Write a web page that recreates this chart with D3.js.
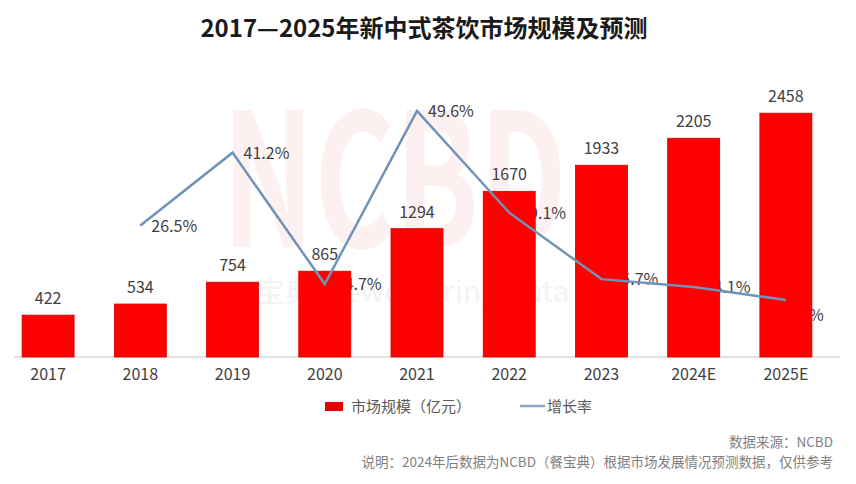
<!DOCTYPE html>
<html>
<head>
<meta charset="utf-8">
<script src="https://cdn.jsdelivr.net/npm/d3@7"></script>
<style>
  body { margin: 0; background: #fff; }
  svg text { font-family: "Noto Sans CJK SC", "Noto Sans", sans-serif; }
</style>
</head>
<body>
<div id="chart"></div>
<script>
// data
var years = ["2017", "2018", "2019", "2020", "2021", "2022", "2023", "2024E", "2025E"]
var marketSize = [422, 534, 754, 865, 1294, 1670, 1933, 2205, 2458]
var growthYears = ["2018", "2019", "2020", "2021", "2022", "2023", "2024E", "2025E"]
var growthRate = [26.5, 41.2, 14.7, 49.6, 29.1, 15.7, 14.1, 11.5]

var svgW = 856, svgH = 484
var svg = d3.select('#chart').append('svg')
    .attr('width', svgW)
    .attr('height', svgH)

var baseY = 357

// title
svg.append('text')
    .attr('x', 424).attr('y', 37)
    .attr('text-anchor', 'middle')
    .attr('font-size', 24).attr('font-weight', 'bold')
    .attr('fill', '#1a1a1a')
    .text('2017—2025年新中式茶饮市场规模及预测')

// faint watermark
svg.append('text')
    .attr('x', 222).attr('y', 247)
    .attr('font-size', 185).attr('font-weight', 'bold')
    .attr('font-family', 'Liberation Sans')
    .attr('textLength', 345).attr('lengthAdjust', 'spacingAndGlyphs')
    .attr('fill', '#fdf0f1')
    .text('NCBD')
svg.append('text')
    .attr('x', 255).attr('y', 302)
    .attr('font-size', 30)
    .attr('fill', '#f3f3f3')
    .text('宝典 Newcatering Data')

var xscale = d3.scaleBand()
    .domain(years)
    .range([2, 832])
    .paddingInner(0.436)
    .paddingOuter(0.218)

var yscale = d3.scaleLinear()
    .domain([0, 2500])
    .range([baseY, 109])

var gscale = d3.scaleLinear()
    .domain([0, 50])
    .range([baseY, 109])

var cx = function(y) { return xscale(y) + xscale.bandwidth() / 2 }

// growth labels sit behind the bars
svg.append('g').selectAll('text')
    .data(growthRate)
    .enter().append('text')
    .attr('x', function(d, i) { return cx(growthYears[i]) + (i == 7 ? -8 : 11) })
    .attr('y', function(d, i) { return gscale(d) + (i == 7 ? 21 : 6) })
    .attr('font-size', 16)
    .attr('fill', '#404040')
    .text(function(d) { return d.toFixed(1) + '%' })

// x axis
var xaxis = d3.axisBottom(xscale).tickSize(0).tickPadding(12)
var gx = svg.append('g')
    .attr('transform', `translate(0, ${baseY})`)
    .call(xaxis)
gx.select('.domain').remove()
gx.selectAll('text')
    .attr('font-size', 16)
    .attr('fill', '#404040')
    .style('font-family', '"Noto Sans CJK SC", sans-serif')
svg.append('line')
    .attr('x1', 14).attr('x2', 840)
    .attr('y1', baseY).attr('y2', baseY)
    .attr('stroke', '#d9d9d9').attr('stroke-width', 1.5)

// bars
svg.append('g').selectAll('rect')
    .data(marketSize)
    .enter().append('rect')
    .attr('x', function(d, i) { return xscale(years[i]) })
    .attr('y', function(d) { return yscale(d) })
    .attr('width', xscale.bandwidth())
    .attr('height', function(d) { return baseY - yscale(d) })
    .attr('fill', '#fe0000')
    .attr('stroke', '#d40000').attr('stroke-width', 0.8)

// bar value labels
svg.append('g').selectAll('text')
    .data(marketSize)
    .enter().append('text')
    .attr('x', function(d, i) { return cx(years[i]) })
    .attr('y', function(d) { return yscale(d) - 11 })
    .attr('text-anchor', 'middle')
    .attr('font-size', 16)
    .attr('fill', '#404040')
    .text(function(d) { return d })

// growth line
var line = d3.line()
    .x(function(d, i) { return cx(growthYears[i]) })
    .y(function(d) { return gscale(d) })
svg.append('path')
    .datum(growthRate)
    .attr('d', line)
    .attr('fill', 'none')
    .attr('stroke', '#6f93b9')
    .attr('stroke-width', 2.5)
    .attr('stroke-linejoin', 'miter')

// legend
var leg = svg.append('g')
leg.append('rect')
    .attr('x', 325).attr('y', 402).attr('width', 18).attr('height', 9)
    .attr('fill', '#e60000')
leg.append('text')
    .attr('x', 351).attr('y', 412)
    .attr('font-size', 15).attr('fill', '#595959')
    .text('市场规模（亿元）')
leg.append('line')
    .attr('x1', 520).attr('x2', 545).attr('y1', 406).attr('y2', 406)
    .attr('stroke', '#8aa5c4').attr('stroke-width', 2.5)
leg.append('text')
    .attr('x', 547).attr('y', 412)
    .attr('font-size', 15).attr('fill', '#595959')
    .text('增长率')

// footer
svg.append('text')
    .attr('x', 833).attr('y', 447)
    .attr('text-anchor', 'end')
    .attr('font-size', 13.5).attr('fill', '#7f7f7f')
    .text('数据来源：NCBD')
svg.append('text')
    .attr('x', 833).attr('y', 467)
    .attr('text-anchor', 'end')
    .attr('font-size', 13.5).attr('fill', '#7f7f7f')
    .text('说明：2024年后数据为NCBD（餐宝典）根据市场发展情况预测数据，仅供参考')
</script>
</body>
</html>
